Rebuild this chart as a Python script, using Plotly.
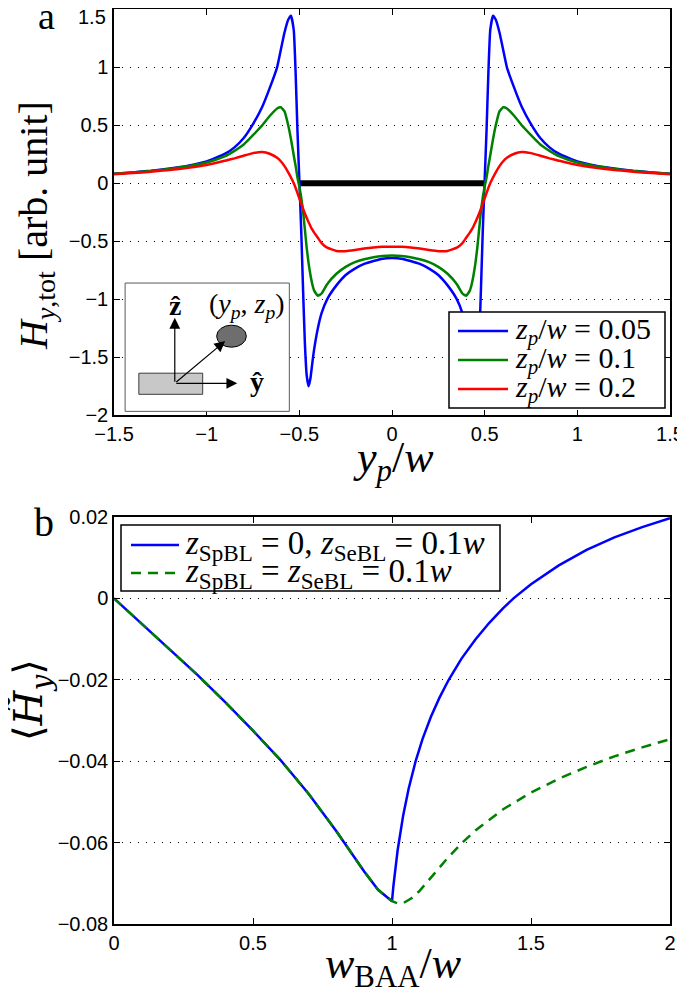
import plotly.graph_objects as go

# ---------------- Panel a data ----------------
yp_w = [-1.5, -1.4, -1.3, -1.2, -1.1, -1.0, -0.9, -0.85, -0.8, -0.75, -0.7, -0.66, -0.62, -0.6, -0.58,
        -0.56, -0.545, -0.53, -0.52, -0.51, -0.5, -0.49, -0.48, -0.47, -0.46, -0.45, -0.44, -0.43, -0.42,
        -0.4, -0.38, -0.35, -0.3, -0.25, -0.2, -0.15, -0.1, -0.05, 0,
        0.05, 0.1, 0.15, 0.2, 0.25, 0.3, 0.35, 0.38, 0.4, 0.42, 0.43, 0.44, 0.45, 0.46, 0.47, 0.48, 0.49,
        0.5, 0.51, 0.52, 0.53, 0.545, 0.56, 0.58, 0.6, 0.62, 0.66, 0.7, 0.75, 0.8, 0.85, 0.9, 1.0, 1.1,
        1.2, 1.3, 1.4, 1.5]

H_zp005 = [0.083, 0.094, 0.108, 0.127, 0.152, 0.188, 0.255, 0.31, 0.39, 0.51, 0.66, 0.82, 1.0, 1.15, 1.3,
           1.41, 1.445, 1.32, 0.95, 0.45, 0.03, -0.4, -0.91, -1.38, -1.66, -1.75, -1.68, -1.55, -1.43,
           -1.25, -1.12, -1.0, -0.88, -0.79, -0.735, -0.695, -0.67, -0.65, -0.645,
           -0.65, -0.67, -0.695, -0.735, -0.79, -0.88, -1.0, -1.12, -1.25, -1.43, -1.55, -1.68, -1.75,
           -1.66, -1.38, -0.91, -0.4, 0.03, 0.45, 0.95, 1.32, 1.445, 1.41, 1.3, 1.15, 1.0, 0.82, 0.66,
           0.51, 0.39, 0.31, 0.255, 0.188, 0.152, 0.127, 0.108, 0.094, 0.083]

H_zp01 = [0.082, 0.093, 0.106, 0.124, 0.148, 0.18, 0.235, 0.28, 0.335, 0.415, 0.5, 0.58, 0.645, 0.655, 0.62,
          0.5, 0.38, 0.24, 0.15, 0.05, -0.03, -0.12, -0.24, -0.4, -0.56, -0.69, -0.79, -0.87, -0.925,
          -0.97, -0.95, -0.87, -0.78, -0.72, -0.68, -0.655, -0.637, -0.626, -0.622,
          -0.626, -0.637, -0.655, -0.68, -0.72, -0.78, -0.87, -0.95, -0.97, -0.925, -0.87, -0.79, -0.69,
          -0.56, -0.4, -0.24, -0.12, -0.03, 0.05, 0.15, 0.24, 0.38, 0.5, 0.62, 0.655, 0.645, 0.58, 0.5,
          0.415, 0.335, 0.28, 0.235, 0.18, 0.148, 0.124, 0.106, 0.093, 0.082]

H_zp02 = [0.078, 0.088, 0.1, 0.115, 0.133, 0.157, 0.195, 0.215, 0.238, 0.26, 0.27, 0.255, 0.22, 0.19, 0.148,
          0.095, 0.05, 0.0, -0.04, -0.085, -0.13, -0.175, -0.22, -0.26, -0.3, -0.335, -0.37, -0.4, -0.425,
          -0.47, -0.515, -0.555, -0.583, -0.585, -0.575, -0.563, -0.554, -0.548, -0.546,
          -0.548, -0.554, -0.563, -0.575, -0.585, -0.583, -0.555, -0.515, -0.47, -0.425, -0.4, -0.37,
          -0.335, -0.3, -0.26, -0.22, -0.175, -0.13, -0.085, -0.04, 0.0, 0.05, 0.095, 0.148, 0.19, 0.22,
          0.255, 0.27, 0.26, 0.238, 0.215, 0.195, 0.157, 0.133, 0.115, 0.1, 0.088, 0.078]

strip_x = [-0.5, 0.5]
strip_y = [0, 0]

legend_a = ["<i>z</i><sub><i>p</i></sub>/<i>w</i> = 0.05",
            "<i>z</i><sub><i>p</i></sub>/<i>w</i> = 0.1",
            "<i>z</i><sub><i>p</i></sub>/<i>w</i> = 0.2"]

# ---------------- Panel b data ----------------
wbaa_1 = [0, 0.1, 0.2, 0.3, 0.4, 0.5, 0.6, 0.7, 0.8, 0.85, 0.9, 0.95, 1.0, 1.005, 1.01, 1.02, 1.04,
          1.06, 1.085, 1.11, 1.14, 1.17, 1.204, 1.25, 1.3, 1.35, 1.4, 1.437, 1.5, 1.6, 1.7, 1.8, 1.9, 2.0]
Hy_1 = [0, -0.0062, -0.0125, -0.0188, -0.0255, -0.0325, -0.0398, -0.048, -0.0572, -0.0621, -0.0671,
        -0.0716, -0.0744, -0.0707, -0.0675, -0.062, -0.0534, -0.0467, -0.04, -0.0345, -0.0291, -0.0245,
        -0.02, -0.0148, -0.0101, -0.006, -0.0024, 0.0, 0.0035, 0.0081, 0.0119, 0.015, 0.0175, 0.0197]

wbaa_2 = [0, 0.1, 0.2, 0.3, 0.4, 0.5, 0.6, 0.7, 0.8, 0.85, 0.9, 0.95, 1.0, 1.02, 1.04, 1.07, 1.1, 1.15,
          1.2, 1.25, 1.3, 1.4, 1.5, 1.6, 1.7, 1.8, 1.9, 2.0]
Hy_2 = [0, -0.0062, -0.0125, -0.0188, -0.0255, -0.0325, -0.0398, -0.048, -0.0572, -0.0621, -0.0671,
        -0.0716, -0.0744, -0.0749, -0.0749, -0.0737, -0.0718, -0.0678, -0.0638, -0.0602, -0.057,
        -0.0518, -0.0477, -0.0443, -0.0414, -0.0388, -0.0366, -0.0346]

legend_b = ["<i>z</i><sub>SpBL</sub> = 0, <i>z</i><sub>SeBL</sub> = 0.1<i>w</i>",
            "<i>z</i><sub>SpBL</sub> = <i>z</i><sub>SeBL</sub> = 0.1<i>w</i>"]

xticks_a = [-1.5, -1, -0.5, 0, 0.5, 1, 1.5]
yticks_a = [-2, -1.5, -1, -0.5, 0, 0.5, 1, 1.5]
yticklabels_a = ["−2", "−1.5", "−1", "−0.5", "0", "0.5", "1", ""]  # top label drawn separately below
xticks_b = [0, 0.5, 1, 1.5, 2]
yticks_b = [-0.08, -0.06, -0.04, -0.02, 0, 0.02]

BLUE = "rgb(0,0,255)"
GREEN = "rgb(0,128,0)"
RED = "rgb(255,0,0)"
SERIF = "Liberation Serif"
SANS = "Liberation Sans"

# page body has an 8px margin, so the figure is sized to fit the window after it
OFF = 8
FW, FH = 685 - OFF, 996 - OFF


def PX(px):
    return (px - OFF) / FW


def PY(py):
    return 1 - (py - OFF) / FH


fig = go.Figure()

fig.add_trace(go.Scatter(x=strip_x, y=strip_y, mode="lines", line=dict(color="black", width=6),
                         showlegend=False, xaxis="x", yaxis="y"))
for ys, col in zip([H_zp005, H_zp01, H_zp02], [BLUE, GREEN, RED]):
    fig.add_trace(go.Scatter(x=yp_w, y=ys, mode="lines", showlegend=False,
                             line=dict(color=col, width=2.5, shape="spline", smoothing=0.4),
                             xaxis="x", yaxis="y"))

fig.add_trace(go.Scatter(x=wbaa_1, y=Hy_1, mode="lines", showlegend=False,
                         line=dict(color=BLUE, width=2.5),
                         xaxis="x2", yaxis="y2"))
fig.add_trace(go.Scatter(x=wbaa_2, y=Hy_2, mode="lines", showlegend=False,
                         line=dict(color=GREEN, width=2.5, dash="10px,7px"),
                         xaxis="x2", yaxis="y2"))

xd = [PX(114), PX(670)]
axis_common = dict(showline=True, linecolor="black", linewidth=1.5, mirror="ticks", ticks="inside",
                   ticklen=6, tickwidth=1, tickcolor="black", zeroline=False, automargin=False,
                   ticklabeloverflow="allow",
                   tickfont=dict(family=SANS, size=20, color="black"))
grid = dict(showgrid=True, gridcolor="black", gridwidth=1, griddash="1px,7px")

fig.update_layout(
    width=FW, height=FH, margin=dict(l=0, r=0, t=0, b=0, autoexpand=False),
    paper_bgcolor="white", plot_bgcolor="white", showlegend=False,
    xaxis=dict(domain=xd, range=[-1.5, 1.5], tickvals=xticks_a, showgrid=False, anchor="y", **axis_common),
    yaxis=dict(domain=[PY(415.3), PY(9.3)], range=[-2, 1.5], tickvals=yticks_a, ticktext=yticklabels_a,
               anchor="x", **grid, **axis_common),
    xaxis2=dict(domain=xd, range=[0, 2], tickvals=xticks_b, showgrid=False, anchor="y2", **axis_common),
    yaxis2=dict(domain=[PY(924), PY(517)], range=[-0.08, 0.02], tickvals=yticks_b, anchor="x2",
                **grid, **axis_common),
)

# top tick label of panel a, nudged down so it stays inside the page
fig.add_annotation(x=PX(108), y=PY(17), xref="paper", yref="paper", text="1.5", showarrow=False,
                   xanchor="right", yanchor="middle", font=dict(family=SANS, size=20, color="black"))

# ---------------- legends (box, line samples, labels) ----------------
def legend_box(x0, x1, y0, y1):
    fig.add_shape(type="rect", xref="paper", yref="paper", x0=PX(x0), x1=PX(x1), y0=PY(y1), y1=PY(y0),
                  line=dict(color="black", width=1.5), fillcolor="white", layer="above")


def legend_entry(sx0, sx1, tx, ty, color, dash, text, size):
    fig.add_shape(type="line", xref="paper", yref="paper", x0=PX(sx0), x1=PX(sx1), y0=PY(ty), y1=PY(ty),
                  line=dict(color=color, width=2.5, dash=dash), layer="above")
    fig.add_annotation(x=PX(tx), y=PY(ty), xref="paper", yref="paper", text=text, showarrow=False,
                       xanchor="left", yanchor="middle", font=dict(family=SERIF, size=size, color="black"))


legend_box(449, 665, 312, 408)
for ty, col, txt in zip([331, 360, 389], [BLUE, GREEN, RED], legend_a):
    legend_entry(458, 508, 513, ty, col, "solid", txt, 30)

legend_box(121, 500, 525, 591)
legend_entry(131, 179, 183, 545, BLUE, "solid", legend_b[0], 33)
legend_entry(131, 179, 183, 573, GREEN, "10px,7px", legend_b[1], 33)

# ---------------- inset sketch in panel a ----------------
fig.add_shape(type="rect", xref="x", yref="y", x0=-1.44, x1=-0.554, y0=-1.966, y1=-0.86,
              line=dict(color="rgb(90,90,90)", width=1), fillcolor="white", layer="above")
fig.add_shape(type="rect", xref="x", yref="y", x0=-1.366, x1=-1.0215, y0=-1.819, y1=-1.637,
              line=dict(color="rgb(60,60,60)", width=1), fillcolor="rgb(200,200,200)", layer="above")
fig.add_shape(type="circle", xref="x", yref="y", x0=-0.946, x1=-0.786, y0=-1.413, y1=-1.223,
              line=dict(color="black", width=1), fillcolor="rgb(110,110,110)", layer="above")
ox, oy = -1.172, -1.724
for tx, ty in [(-1.172, -1.16), (-0.835, -1.724), (-0.9, -1.36)]:
    fig.add_annotation(x=tx, y=ty, ax=ox, ay=oy, xref="x", yref="y", axref="x", ayref="y",
                       text="", showarrow=True, arrowhead=2, arrowsize=1.8, arrowwidth=1.2,
                       arrowcolor="black")
fig.add_annotation(x=-1.172, y=-1.05, xref="x", yref="y", text="<b>ẑ</b>", showarrow=False,
                   font=dict(family=SERIF, size=28, color="black"))
fig.add_annotation(x=-0.78, y=-1.05, xref="x", yref="y",
                   text="(<i>y</i><sub><i>p</i></sub>, <i>z</i><sub><i>p</i></sub>)", showarrow=False,
                   font=dict(family=SERIF, size=28, color="black"))
fig.add_annotation(x=-0.73, y=-1.71, xref="x", yref="y", text="<b>ŷ</b>", showarrow=False,
                   font=dict(family=SERIF, size=28, color="black"))

# ---------------- titles and panel labels ----------------
def ann(text, px, py, size, angle=0, family=SERIF):
    fig.add_annotation(x=PX(px), y=PY(py), xref="paper", yref="paper", text=text, showarrow=False,
                       textangle=angle, xanchor="center", yanchor="middle",
                       font=dict(family=family, size=size, color="black"))


ann("a", 46, 16, 38)
ann("b", 44, 522, 40)
ann("<i>H</i><sub><i>y</i>,tot</sub> [arb. unit]", 36, 226, 40, -90)
ann("<i>y</i><sub><i>p</i></sub>/<i>w</i>", 393, 460, 44)
ann("⟨<i>H̃</i><sub><i>y</i></sub>⟩", 31, 700, 40, -90, "DejaVu Serif")
ann("<i>w</i><sub>BAA</sub>/<i>w</i>", 393, 966, 44)

fig.write_html("out.html")
